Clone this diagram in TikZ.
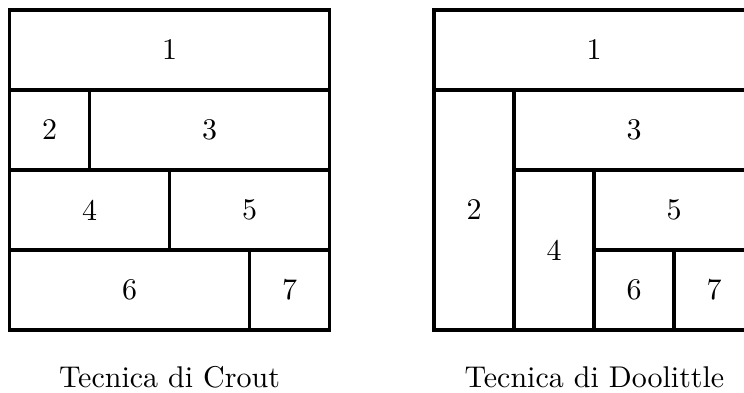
\documentclass[tikz,border=0pt]{standalone}
\begin{document}
\begin{tikzpicture}[x=1pt,y=-1pt,
  blk/.style={line width=3.2pt,line join=miter},
  num/.style={scale=3,inner sep=0pt},
  captext/.style={scale=3,inner sep=0pt,anchor=base}]
\useasboundingbox (0,0) rectangle (744,393);
\clip (0,0) rectangle (744,393);
% ---- Crout ----
\draw[blk] (9.5,10) rectangle (329.5,90);
\draw[blk] (9.5,90) rectangle (89.5,170);
\draw[blk] (89.5,90) rectangle (329.5,170);
\draw[blk] (9.5,170) rectangle (169.5,250);
\draw[blk] (169.5,170) rectangle (329.5,250);
\draw[blk] (9.5,250) rectangle (249.5,330);
\draw[blk] (249.5,250) rectangle (329.5,330);
\node[num] (c1) at (169.5,50) {1};
\node[num] (c2) at (49.5,130) {2};
\node[num] (c3) at (209.5,130) {3};
\node[num] (c4) at (89.5,210) {4};
\node[num] (c5) at (249.5,210) {5};
\node[num] (c6) at (129.5,290) {6};
\node[num] (c7) at (289.5,290) {7};
\node[captext] (ccap) at (169.5,387) {Tecnica di Crout};
% ---- Doolittle ----
\draw[blk] (434,10) rectangle (754,90);
\draw[blk] (434,90) rectangle (514,330);
\draw[blk] (514,90) rectangle (754,170);
\draw[blk] (514,170) rectangle (594,330);
\draw[blk] (594,170) rectangle (754,250);
\draw[blk] (594,250) rectangle (674,330);
\draw[blk] (674,250) rectangle (754,330);
\node[num] (d1) at (594,50) {1};
\node[num] (d2) at (474,210) {2};
\node[num] (d3) at (634,130) {3};
\node[num] (d4) at (554,250) {4};
\node[num] (d5) at (674,210) {5};
\node[num] (d6) at (634,290) {6};
\node[num] (d7) at (714,290) {7};
\node[captext] (dcap) at (594.5,387) {Tecnica di Doolittle};
\end{tikzpicture}
\end{document}
